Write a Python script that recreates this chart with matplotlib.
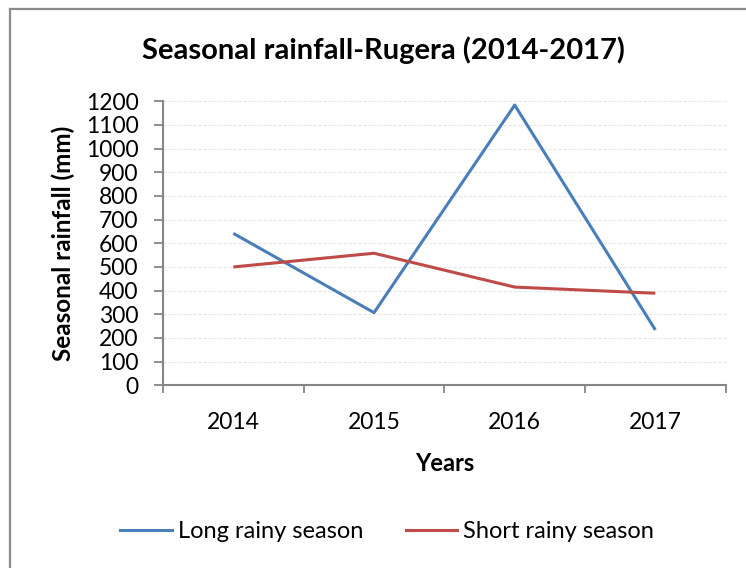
import matplotlib
matplotlib.use("Agg")
import matplotlib.pyplot as plt
from matplotlib.lines import Line2D

years = ["2014", "2015", "2016", "2017"]
long_rainy = [642, 307, 1184, 234]
short_rainy = [500, 558, 415, 389]
y_ticks = list(range(0, 1300, 100))

plt.rcParams["font.family"] = ["Lato", "DejaVu Sans"]

fig = plt.figure(figsize=(7.46, 5.68), dpi=100)
ax = fig.add_axes([163 / 746, 1 - 385.3 / 568, (725.7 - 163) / 746, 284 / 568])

x = list(range(len(years)))
ax.plot(x, long_rainy, color="#4a7ebb", lw=2.2, label="Long rainy season", solid_capstyle="butt")
ax.plot(x, short_rainy, color="#be4b48", lw=2.2, label="Short rainy season", solid_capstyle="butt")

ax.set_xlim(-0.5, len(years) - 0.5)
ax.set_ylim(0, 1200)
ax.set_yticks(y_ticks)
ax.set_yticklabels([str(v) for v in y_ticks], fontsize=16.5)
ax.set_xticks(x)
ax.set_xticklabels(years, fontsize=16.5)
ax.tick_params(axis="x", length=0, pad=19)
ax.set_xticks([i - 0.5 for i in range(len(years) + 1)], minor=True)
ax.tick_params(axis="x", which="minor", length=6, width=1.3, color="#868686", direction="out")
ax.tick_params(axis="y", length=6.5, width=1.3, color="#868686", direction="out", pad=11)

ax.grid(axis="y", color="#e6e6e6", lw=0.8, ls=(0, (3, 1.5)))
ax.set_axisbelow(True)
for s in ("top", "right"):
    ax.spines[s].set_visible(False)
for s in ("left", "bottom"):
    ax.spines[s].set_color("#868686")
    ax.spines[s].set_linewidth(1.5)

ax.set_ylabel("Seasonal rainfall (mm)", fontsize=17.5, fontweight="bold", labelpad=8)
ax.set_xlabel("Years", fontsize=17, fontweight="bold", labelpad=14)

fig.text(383 / 746, 1 - 50 / 568, "Seasonal rainfall-Rugera (2014-2017)",
         ha="center", va="center", fontsize=21, fontweight="bold")

handles = [Line2D([0], [0], color="#4a7ebb", lw=2.2),
           Line2D([0], [0], color="#be4b48", lw=2.2)]
fig.legend(handles, ["Long rainy season", "Short rainy season"],
           loc="center", bbox_to_anchor=(387 / 746, 1 - 532 / 568), ncol=2,
           frameon=False, fontsize=17, handlelength=2.2, handletextpad=0.25,
           columnspacing=1.8)

# chart frame (top and left edges)
fig.add_artist(Line2D([10 / 746, 1.0], [1 - 9 / 568, 1 - 9 / 568], transform=fig.transFigure,
                      color="#8c8c8c", lw=1.6))
fig.add_artist(Line2D([10 / 746, 10 / 746], [0, 1 - 9 / 568], transform=fig.transFigure,
                      color="#8c8c8c", lw=1.6))

fig.savefig("out.png", dpi=100)
